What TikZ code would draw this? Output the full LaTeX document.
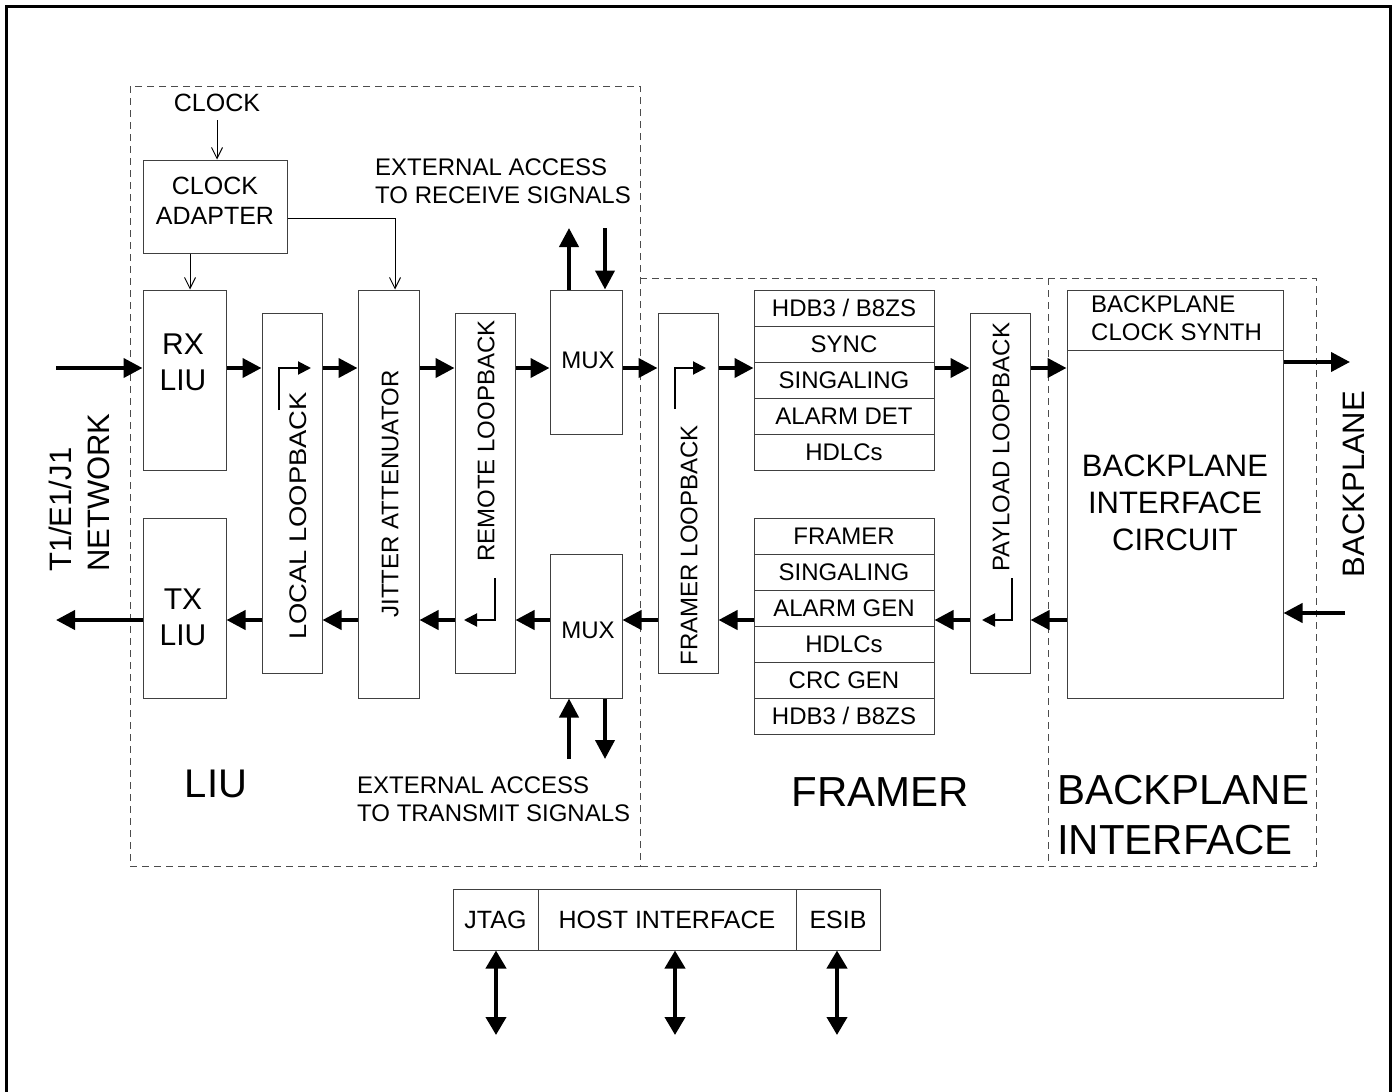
\documentclass[tikz,border=0pt]{standalone}
\usepackage{fontspec}
\setmainfont{Liberation Sans}
\usetikzlibrary{arrows.meta,calc}
\begin{document}
\begin{tikzpicture}[x=1pt,y=-1pt,
  box/.style={draw=black!75,line width=1pt,inner sep=0pt,anchor=center},
  txt/.style={inner sep=0pt,anchor=center},
  tA/.style={font=\fontsize{24}{28}\selectfont},
  tB/.style={font=\fontsize{25}{30}\selectfont},
  tC/.style={font=\fontsize{30}{36}\selectfont},
  tD/.style={font=\fontsize{31}{37}\selectfont},
  tE/.style={font=\fontsize{40}{48}\selectfont},
  tF/.style={font=\fontsize{42}{50}\selectfont},
  thk/.style={line width=4pt,-{Triangle[length=19pt,width=19pt]}},
  dbl/.style={line width=4pt,{Triangle[length=18pt,width=20pt]}-{Triangle[length=18pt,width=20pt]}},
  thn/.style={line width=1pt,-{Straight Barb[length=11pt,width=11pt]}},
  lbk/.style={line width=2pt,-{Triangle[length=13pt,width=13pt]}},
  dsh/.style={draw=black!70,line width=1pt,dash pattern=on 7pt off 5pt}]
\useasboundingbox (0,0) rectangle (1395,1092);
% outer frame
\draw[line width=3pt] (6,1100) -- (6,6) -- (1390,6) -- (1390,1100);
% dashed regions
\draw[dsh] (130,86) rectangle (640,866);
\draw[dsh] (640,278) -- (1316,278) -- (1316,866) -- (640,866);
\draw[dsh] (1048,278) -- (1048,866);
% reference rows
\coordinate (ytop) at (0,368);
\coordinate (ybot) at (0,620);
% boxes
\node[box,minimum width=144pt,minimum height=93pt] (clkad) at (215,206.5) {};
\node[box,minimum width=83pt,minimum height=180pt] (rxliu) at (184.5,380) {};
\node[box,minimum width=83pt,minimum height=180pt] (txliu) at (184.5,608) {};
\node[box,minimum width=60pt,minimum height=360pt] (llb) at (292,493) {};
\node[box,minimum width=61pt,minimum height=408pt] (jit) at (388.5,494) {};
\node[box,minimum width=60pt,minimum height=360pt] (rlb) at (485,493) {};
\node[box,minimum width=72pt,minimum height=144pt] (muxt) at (586,362) {};
\node[box,minimum width=72pt,minimum height=144pt] (muxb) at (586,626) {};
\node[box,minimum width=60pt,minimum height=360pt] (flb) at (688,493) {};
\node[box,minimum width=60pt,minimum height=360pt] (plb) at (1000,493) {};
\node[box,minimum width=216pt,minimum height=60pt] (bcs) at (1175,320) {};
\node[box,minimum width=216pt,minimum height=348pt] (bic) at (1175,524) {};
% receive stack
\foreach \n/\yy/\t in {s1/308/{HDB3 / B8ZS},s2/344/SYNC,s3/380/SINGALING,s4/416/ALARM DET,s5/452/HDLCs}
  \node[box,tA,minimum width=180pt,minimum height=36pt] (\n) at (844,\yy) {\t};
% transmit stack
\foreach \n/\yy/\t in {r1/536/FRAMER,r2/572/SINGALING,r3/608/ALARM GEN,r4/644/HDLCs,r5/680/CRC GEN,r6/716/{HDB3 / B8ZS}}
  \node[box,tA,minimum width=180pt,minimum height=36pt] (\n) at (844,\yy) {\t};
% host interface
\node[box,tB,minimum width=85pt,minimum height=61pt] (jtag) at (495.5,919.5) {JTAG};
\node[box,tB,minimum width=258pt,minimum height=61pt] (host) at (667,919.5) {HOST INTERFACE};
\node[box,tB,minimum width=84pt,minimum height=61pt] (esib) at (838,919.5) {ESIB};
% texts
\node[txt,tB] (clk) at (217,103) {CLOCK};
\node[txt,tB,align=center] at (215,201) {CLOCK\\ADAPTER};
\node[txt,tC,align=center] at (183,362) {RX\\LIU};
\node[txt,tC,align=center] at (183,617) {TX\\LIU};
\node[txt,tA] at (588,360) {MUX};
\node[txt,tA] at (588,630) {MUX};
\node[txt,tA,rotate=90,xscale=1.14] at (298,516) {LOCAL LOOPBACK};
\node[txt,tA,rotate=90] at (390,494) {JITTER ATTENUATOR};
\node[txt,tA,rotate=90] at (486,441) {REMOTE LOOPBACK};
\node[txt,tA,rotate=90] at (689,545) {FRAMER LOOPBACK};
\node[txt,tA,rotate=90] at (1001,447) {PAYLOAD LOOPBACK};
\node[txt,tA,align=left,anchor=west] at (1091,318) {BACKPLANE\\CLOCK SYNTH};
\node[txt,tD,align=center] at (1175,503) {BACKPLANE\\INTERFACE\\CIRCUIT};
\node[txt,tD,rotate=90] at (1354,484) {BACKPLANE};
\node[txt,tD,rotate=90,align=left,anchor=west,font=\fontsize{31}{38}\selectfont] at (79,572) {T1/E1/J1\\NETWORK};
\node[txt,tA,align=left,anchor=west] at (375,181) {EXTERNAL ACCESS\\TO RECEIVE SIGNALS};
\node[txt,tA,align=left,anchor=west] at (357,799) {EXTERNAL ACCESS\\TO TRANSMIT SIGNALS};
\node[txt,tE] at (216,784) {LIU};
\node[txt,tF] at (880,792) {FRAMER};
\node[txt,tF,align=left,anchor=west] at (1057,815) {BACKPLANE\\INTERFACE};
% clock connectors
\coordinate (clkin) at (217,120);
\draw[thn] (clkin) -- (clkin |- clkad.north);
\draw[thn] ($(clkad.south)+(-25,0)$) -- ($(rxliu.north)+(5.5,0)$);
\coordinate (ja) at (395,218);
\draw[thn] (clkad.east |- ja) -- (ja) -- (ja |- jit.north);
% receive path
\coordinate (netin) at (56,368);
\draw[thk] (netin) -- (rxliu.west |- netin);
\foreach \a/\b in {rxliu/llb,llb/jit,jit/rlb,rlb/muxt,muxt/flb,flb/s3,s3/plb,plb/bic}
  \draw[thk] (\a.east |- ytop) -- (\b.west |- ytop);
\coordinate (bpout) at (1350,362);
\draw[thk] (bic.east |- bpout) -- (bpout);
% transmit path
\coordinate (bpin) at (1345,613);
\draw[thk] (bpin) -- (bic.east |- bpin);
\foreach \a/\b in {bic/plb,plb/r3,r3/flb,flb/muxb,muxb/rlb,rlb/jit,jit/llb,llb/txliu}
  \draw[thk] (\a.west |- ybot) -- (\b.east |- ybot);
\coordinate (netout) at (56,620);
\draw[thk] (txliu.west |- netout) -- (netout);
% external access
\coordinate (ea1) at (569,228);
\coordinate (ea2) at (605,228);
\draw[thk] (muxt.north -| ea1) -- (ea1);
\draw[thk] (ea2) -- (muxt.north -| ea2);
\coordinate (eb1) at (569,759);
\coordinate (eb2) at (605,759);
\draw[thk] (eb1) -- (muxb.south -| eb1);
\draw[thk] (muxb.south -| eb2) -- (eb2);
% loopback marks
\coordinate (l1) at (279,410); \coordinate (l2) at (311,368);
\draw[lbk] (l1) |- (l2);
\coordinate (f1) at (675,409); \coordinate (f2) at (706,368);
\draw[lbk] (f1) |- (f2);
\coordinate (q1) at (495,578); \coordinate (q2) at (464,620);
\draw[lbk] (q1) |- (q2);
\coordinate (p1) at (1012,578); \coordinate (p2) at (982,620);
\draw[lbk] (p1) |- (p2);
% host arrows
\coordinate (h1) at (496,1035);
\coordinate (h2) at (675,1035);
\coordinate (h3) at (837,1035);
\draw[dbl] (jtag.south -| h1) -- (h1);
\draw[dbl] (host.south -| h2) -- (h2);
\draw[dbl] (esib.south -| h3) -- (h3);
\end{tikzpicture}
\end{document}
